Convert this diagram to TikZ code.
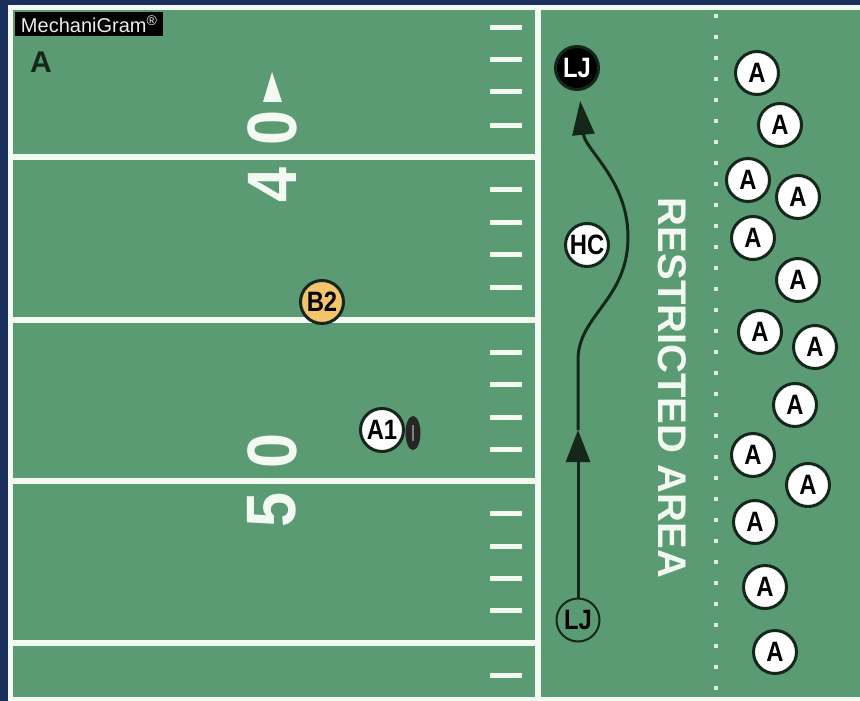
\documentclass[tikz,border=0pt]{standalone}
\usepackage{fontspec}
\setsansfont{Liberation Sans}
\usetikzlibrary{arrows.meta,shapes.geometric}
\definecolor{turf}{HTML}{5A9B74}
\definecolor{navy}{HTML}{1B2F5C}
\definecolor{chalk}{HTML}{F2FAF2}
\definecolor{ink}{HTML}{15271B}
\definecolor{gold}{HTML}{F3C46C}
\newcommand{\condtext}[1]{\scalebox{0.85}[1]{#1}}
\begin{document}
\begin{tikzpicture}[x=1pt, y=-1pt,
    yardline/.style={chalk, line width=6pt},
    hashmark/.style={chalk, line width=5pt},
    player/.style={circle, draw=ink, line width=3pt, minimum size=43pt, inner sep=0pt,
        font=\sffamily\bfseries\fontsize{28}{28}\selectfont},
    yardnum/.style={rotate=90, inner sep=0pt, text=chalk,
        font=\sffamily\bfseries\fontsize{70}{70}\selectfont},
    route/.style={ink, line width=3pt}]
    \useasboundingbox (0,0) rectangle (860,701);
    \fill[navy] (0,0) rectangle (860,701);
    \fill[chalk] (8,5) rectangle (860,701);
    \fill[turf] (13,10) rectangle (860,697);

    % Yard lines, sideline and hash marks
    \foreach \y in {157,320,481,643}
        \draw[yardline] (13,\y) -- (538,\y);
    \draw[yardline] (538,10) -- (538,697);
    \foreach \y in {28,60,92,125,189,222,254,287,352,384,417,449,513,546,578,610,675}
        \draw[hashmark] (490,\y) -- (522,\y);
    \draw[chalk!85!turf, line width=4pt, dash pattern=on 4pt off 17pt] (716,14) -- (716,697);

    % Yard numbers
    \node[yardnum] (forty0) at (272,128) {\scalebox{0.9}[1]{0}};
    \node[yardnum] (forty4) at (272,185) {\scalebox{0.9}[1]{4}};
    \node[yardnum] (fifty0) at (272,451) {\scalebox{0.9}[1]{0}};
    \node[yardnum] (fifty5) at (272,510) {\scalebox{0.9}[1]{5}};
    \fill[chalk] (263,102) -- (272,72) -- (282,102) -- cycle;

    \node[rotate=-90, text=chalk, font=\sffamily\bfseries\fontsize{40}{40}\selectfont]
        (restricted) at (672,388) {RESTRICTED AREA};

    % Labels
    \node[anchor=north west, fill=black, text=white!85!gray, minimum width=148pt, minimum height=24pt,
        inner sep=2pt, font=\sffamily\fontsize{20}{20}\selectfont] (brand) at (15,12) {MechaniGram\textsuperscript{®}};
    \node[text=ink, font=\sffamily\bfseries\fontsize{30}{30}\selectfont] (offense) at (41,62) {A};

    % Players
    \node[player, fill=black, text=white] (lj1) at (577,68) {\condtext{LJ}};
    \node[player, fill=white] (hc) at (587,245) {\condtext{HC}};
    \node[player, fill=gold] (b2) at (322,302) {\condtext{B2}};
    \node[player, fill=white] (a1) at (382,430) {\condtext{A1}};
    \node[player, fill=turf, line width=2pt] (lj2) at (578,620) {\condtext{LJ}};
    \node[ellipse, fill=black!85, minimum width=15pt, minimum height=34pt, inner sep=0pt] (ball) at (413,433) {};
    \draw[gray, line width=2pt] ([yshift=-8pt]ball.center) -- ([yshift=8pt]ball.center);
    \foreach \x/\y [count=\i] in {757/73,780/125,748/180,798/197,753/238,798/280,760/332,
        815/347,795/405,753/455,808/485,755/522,765/587,775/652}
        \node[player, fill=white] (team\i) at (\x,\y) {\condtext{A}};

    % Line judge path
    \coordinate (tipmid) at (578,430);
    \coordinate (turn) at (578,360);
    \coordinate (wide) at (628,237);
    \draw[route, -{Triangle[length=32pt,width=24pt]}] (lj2) -- (tipmid);
    \draw[route, -{Triangle[length=34pt,width=22pt]}, shorten >=10pt] (tipmid) -- (turn)
        .. controls (578,315) and (628,300) .. (wide)
        .. controls (628,180) and (585,150) .. (lj1);
\end{tikzpicture}
\end{document}
